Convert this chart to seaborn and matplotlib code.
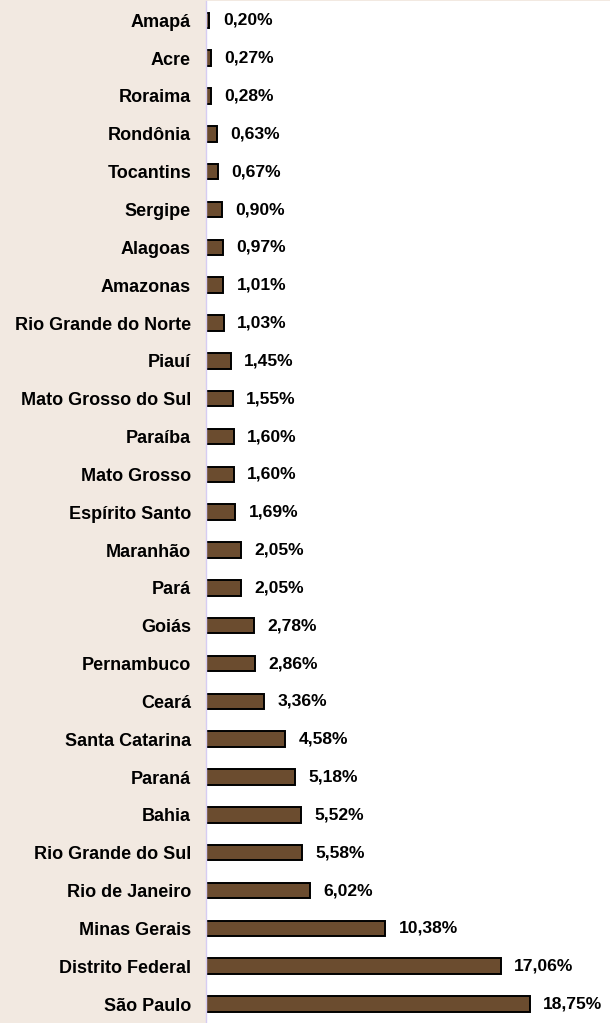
import matplotlib
matplotlib.use("Agg")
import matplotlib.pyplot as plt
import seaborn as sns
import pandas as pd

estados = ["Amapá", "Acre", "Roraima", "Rondônia", "Tocantins", "Sergipe", "Alagoas",
           "Amazonas", "Rio Grande do Norte", "Piauí", "Mato Grosso do Sul", "Paraíba",
           "Mato Grosso", "Espírito Santo", "Maranhão", "Pará", "Goiás", "Pernambuco",
           "Ceará", "Santa Catarina", "Paraná", "Bahia", "Rio Grande do Sul",
           "Rio de Janeiro", "Minas Gerais", "Distrito Federal", "São Paulo"]
percentuais = [0.20, 0.27, 0.28, 0.63, 0.67, 0.90, 0.97, 1.01, 1.03, 1.45, 1.55, 1.60,
               1.60, 1.69, 2.05, 2.05, 2.78, 2.86, 3.36, 4.58, 5.18, 5.52, 5.58, 6.02,
               10.38, 17.06, 18.75]

df = pd.DataFrame({"estado": estados, "pct": percentuais})

sns.set_style("white")
plt.rcParams["font.family"] = ["Liberation Sans", "DejaVu Sans"]

W, H = 610, 1023
fig = plt.figure(figsize=(W / 100, H / 100), dpi=100, facecolor="#F2E9E1")
ax = fig.add_axes([206 / W, 0, (W - 206) / W, 1 - 1.4 / H])
ax.set_facecolor("white")

sns.barplot(data=df, x="pct", y="estado", orient="h", color="#6B4C2F",
            saturation=1, width=0.41, edgecolor="black", linewidth=1.4, ax=ax)

n = len(estados)
ax.set_ylim(26.24, -0.5)
ax.set_xlim(0, 23.4)

for i, v in enumerate(percentuais):
    ax.annotate(f"{v:.2f}%".replace(".", ","), xy=(v, i), xytext=(9.6, 0),
                textcoords="offset points", ha="left", va="center",
                fontsize=12.6, fontweight="bold", color="black")

ax.set_xlabel("")
ax.set_ylabel("")
ax.set_xticks([])
ax.tick_params(axis="y", which="major", length=0, pad=10.8)
ax.set_yticks([i + 0.5 for i in range(-1, n)], minor=True)
ax.tick_params(axis="y", which="minor", length=4, color="#D6CCF2", width=0.8)
for lbl in ax.get_yticklabels():
    lbl.set_fontsize(13.0)
    lbl.set_fontweight("bold")
    lbl.set_color("black")

for s in ["top", "right", "bottom"]:
    ax.spines[s].set_visible(False)
ax.spines["left"].set_color("#D6CCF2")
ax.spines["left"].set_linewidth(1)

fig.savefig("out.png", dpi=100, facecolor=fig.get_facecolor())
